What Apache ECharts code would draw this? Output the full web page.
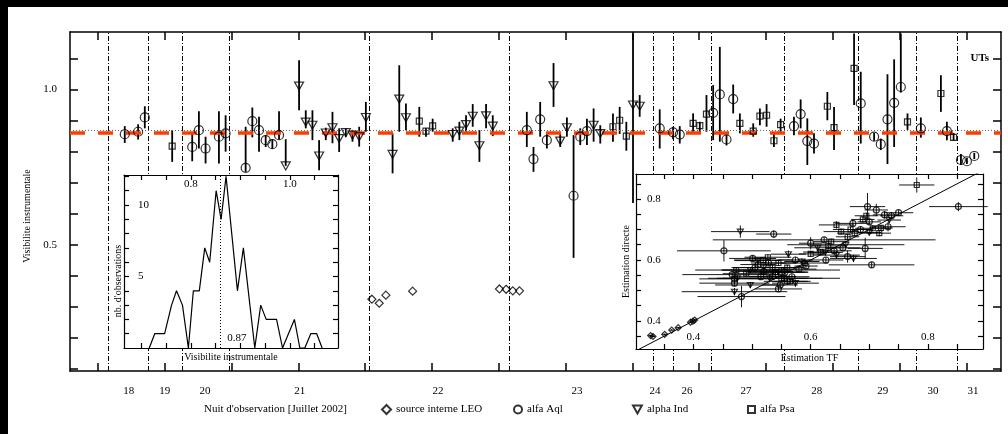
<!DOCTYPE html>
<html>
<head>
<meta charset="utf-8">
<script src="https://cdn.jsdelivr.net/npm/echarts@6.0.0/dist/echarts.min.js"></script>
<style>
html, body { margin: 0; padding: 0; background: #000; }
#chart { position: absolute; left: 8px; top: 7px; width: 1000px; height: 427px; background: #fff; }
</style>
</head>
<body>
<div id="chart"></div>
<script>
// axe des nuits (unite = un intervalle de graduation)
var nightNames = ['18', '19', '20', '21', '22', '23', '24', '26', '27', '28', '29', '30', '31'];
var nightPos = [1.46, 2.00, 2.60, 4.02, 6.09, 8.17, 9.34, 9.82, 10.70, 11.76, 12.75, 13.50, 14.10];
var nightSeparators = [1.15, 1.75, 2.26, 2.96, 5.06, 7.15, 9.31, 9.62, 10.18, 11.28, 12.39, 13.25, 13.86];
var xTicks = [1, 2, 3, 4, 5, 6, 7, 8, 9, 10, 11, 12, 13, 14];
var yTicks = [0.1, 0.2, 0.3, 0.4, 0.5, 0.6, 0.7, 0.8, 0.9, 1.0, 1.1];
var yLabels = [0.5, 1.0];
var redLevel = 0.863;
var dotLevel = 0.869;

// [position, visibilite, bas, haut]
var aqlData = [
	[1.40, 0.856, 0.828, 0.882], [1.60, 0.864, 0.839, 0.888], [1.70, 0.910, 0.875, 0.946],
	[2.41, 0.815, 0.769, 0.859], [2.51, 0.869, 0.810, 0.930], [2.61, 0.810, 0.762, 0.848],
	[2.81, 0.848, 0.762, 0.930], [2.91, 0.859, 0.800, 0.917], [3.21, 0.748, 0.735, 0.880],
	[3.31, 0.898, 0.846, 0.942], [3.41, 0.869, 0.800, 0.912], [3.51, 0.837, 0.815, 0.853],
	[3.61, 0.824, 0.810, 0.840], [3.71, 0.853, 0.840, 0.930], [7.42, 0.869, 0.815, 0.928],
	[7.52, 0.776, 0.735, 0.815], [7.62, 0.904, 0.848, 0.960], [7.72, 0.837, 0.810, 0.860],
	[8.12, 0.658, 0.458, 0.853], [8.22, 0.848, 0.821, 0.875], [8.32, 0.866, 0.821, 0.906],
	[9.41, 0.875, 0.810, 0.936], [9.61, 0.862, 0.840, 0.880], [9.71, 0.855, 0.826, 0.882],
	[10.21, 0.925, 0.837, 1.014], [10.31, 0.984, 0.832, 1.137], [10.41, 0.839, 0.820, 0.855],
	[10.51, 0.969, 0.923, 1.016], [11.42, 0.882, 0.853, 0.912], [11.52, 0.921, 0.875, 0.968],
	[11.62, 0.834, 0.757, 0.907], [11.72, 0.826, 0.794, 0.859], [12.42, 0.955, 0.826, 1.057],
	[12.62, 0.848, 0.835, 0.860], [12.72, 0.824, 0.805, 0.842], [12.82, 0.904, 0.760, 1.049],
	[12.92, 0.957, 0.815, 1.097], [13.02, 1.008, 0.990, 1.180], [13.32, 0.875, 0.845, 0.910],
	[13.71, 0.866, 0.837, 0.896], [13.92, 0.773, 0.757, 0.792], [14.01, 0.769, 0.760, 0.780],
	[14.12, 0.786, 0.776, 0.796]
];
var indData = [
	[3.81, 0.754, 0.754, 0.840], [4.01, 1.011, 0.933, 1.094], [4.11, 0.895, 0.875, 0.933],
	[4.21, 0.885, 0.837, 0.933], [4.31, 0.786, 0.740, 0.837], [4.41, 0.860, 0.837, 0.877],
	[4.51, 0.877, 0.827, 0.928], [4.61, 0.842, 0.799, 0.875], [4.71, 0.861, 0.848, 0.875],
	[4.81, 0.853, 0.832, 0.870], [4.91, 0.848, 0.816, 0.880], [5.01, 0.910, 0.864, 0.960],
	[5.41, 0.791, 0.730, 0.859], [5.51, 0.969, 0.864, 1.078], [5.61, 0.909, 0.869, 0.955],
	[6.31, 0.855, 0.832, 0.875], [6.41, 0.866, 0.837, 0.896], [6.51, 0.887, 0.864, 0.917],
	[6.61, 0.914, 0.880, 0.953], [6.71, 0.819, 0.767, 0.869], [6.81, 0.915, 0.875, 0.953],
	[6.91, 0.882, 0.850, 0.917], [7.82, 1.012, 0.944, 1.085], [7.92, 0.834, 0.815, 0.857],
	[8.02, 0.877, 0.848, 0.910], [8.42, 0.885, 0.832, 0.939], [8.52, 0.858, 0.826, 0.885],
	[9.01, 0.950, 0.635, 1.180], [9.11, 0.946, 0.912, 0.982]
];
var psaData = [
	[2.11, 0.818, 0.767, 0.869], [5.81, 0.898, 0.848, 0.944], [5.91, 0.866, 0.848, 0.875],
	[6.01, 0.883, 0.864, 0.906], [8.71, 0.880, 0.832, 0.923], [8.81, 0.901, 0.857, 0.944],
	[8.91, 0.850, 0.803, 0.896], [9.91, 0.891, 0.864, 0.923], [10.01, 0.884, 0.860, 0.896],
	[10.11, 0.921, 0.864, 0.982], [10.61, 0.891, 0.859, 0.923], [10.81, 0.866, 0.848, 0.891],
	[10.91, 0.914, 0.885, 0.939], [11.01, 0.917, 0.880, 0.953], [11.12, 0.835, 0.815, 0.857],
	[11.22, 0.887, 0.857, 0.906], [11.92, 0.946, 0.901, 0.992], [12.02, 0.877, 0.805, 0.944],
	[12.32, 1.068, 0.950, 1.180], [13.12, 0.896, 0.870, 0.923], [13.62, 0.987, 0.928, 1.046],
	[13.81, 0.846, 0.835, 0.860]
];
var leoData = [
	[5.10, 0.325], [5.21, 0.312], [5.31, 0.338], [5.71, 0.351],
	[7.01, 0.358], [7.11, 0.357], [7.21, 0.352], [7.31, 0.352]
];

// histogramme
var histX = [0.716, 0.727, 0.747, 0.761, 0.771, 0.783, 0.795, 0.805, 0.817, 0.828, 0.838, 0.851, 0.861, 0.871,
	0.894, 0.906, 0.929, 0.941, 0.952, 0.973, 0.985, 1.009, 1.020, 1.030, 1.042, 1.054, 1.065];
var histY = [0, 1, 1, 3, 4, 3, 0, 4, 4, 7, 6, 11, 9, 12, 4, 7, 0, 3, 2, 2, 0, 2, 0, 0, 1, 1, 0];
var histMean = 0.862;
var histMeanText = '0.87';
var histXTicks = [0.70, 0.75, 0.80, 0.85, 0.90, 0.95, 1.00, 1.05];
var histXLabels = [0.8, 1.0];
var histYTicks = [1, 2, 3, 4, 5, 6, 7, 8, 9, 10, 11, 12];
var histYLabels = [5, 10];

// estimation TF / directe : [x, y, erreur x, erreur y]
var tfLeo = [
	[0.327, 0.352, 0.004, 0.003], [0.331, 0.349, 0.004, 0.003], [0.351, 0.356, 0.004, 0.003],
	[0.363, 0.370, 0.004, 0.003], [0.374, 0.378, 0.004, 0.003], [0.395, 0.396, 0.004, 0.003],
	[0.399, 0.399, 0.004, 0.003], [0.402, 0.403, 0.004, 0.003]
];
var tfAql = [
	[0.452, 0.630, 0.080, 0.035], [0.537, 0.685, 0.030, 0.012], [0.482, 0.480, 0.075, 0.035],
	[0.470, 0.538, 0.060, 0.010], [0.466, 0.552, 0.085, 0.012], [0.501, 0.605, 0.040, 0.010],
	[0.520, 0.562, 0.050, 0.010], [0.535, 0.546, 0.040, 0.010], [0.548, 0.518, 0.030, 0.010],
	[0.560, 0.530, 0.040, 0.012], [0.574, 0.600, 0.030, 0.010], [0.592, 0.580, 0.020, 0.010],
	[0.600, 0.655, 0.020, 0.020], [0.623, 0.666, 0.190, 0.010], [0.626, 0.600, 0.030, 0.010],
	[0.663, 0.611, 0.030, 0.020], [0.693, 0.638, 0.030, 0.035], [0.704, 0.584, 0.073, 0.010],
	[0.672, 0.720, 0.030, 0.012], [0.697, 0.775, 0.030, 0.045], [0.712, 0.764, 0.020, 0.020],
	[0.726, 0.748, 0.020, 0.012], [0.732, 0.709, 0.030, 0.015], [0.750, 0.755, 0.025, 0.010],
	[0.852, 0.775, 0.050, 0.015], [0.545, 0.505, 0.040, 0.010], [0.470, 0.524, 0.060, 0.010],
	[0.505, 0.575, 0.040, 0.010], [0.515, 0.545, 0.050, 0.010], [0.528, 0.590, 0.030, 0.010],
	[0.556, 0.560, 0.040, 0.010], [0.568, 0.545, 0.030, 0.010], [0.580, 0.570, 0.030, 0.010],
	[0.640, 0.630, 0.030, 0.010], [0.655, 0.640, 0.030, 0.010], [0.685, 0.700, 0.020, 0.010],
	[0.700, 0.725, 0.020, 0.010], [0.738, 0.745, 0.020, 0.010]
];
var tfInd = [
	[0.480, 0.693, 0.050, 0.020], [0.470, 0.496, 0.090, 0.012], [0.497, 0.567, 0.050, 0.010],
	[0.497, 0.518, 0.060, 0.010], [0.510, 0.598, 0.040, 0.010], [0.530, 0.540, 0.090, 0.010],
	[0.562, 0.619, 0.030, 0.012], [0.574, 0.524, 0.040, 0.012], [0.612, 0.640, 0.040, 0.010],
	[0.644, 0.616, 0.040, 0.012], [0.673, 0.605, 0.040, 0.012], [0.734, 0.731, 0.020, 0.010],
	[0.660, 0.650, 0.100, 0.010], [0.545, 0.560, 0.050, 0.010], [0.520, 0.575, 0.040, 0.010],
	[0.585, 0.595, 0.030, 0.010], [0.625, 0.625, 0.030, 0.010], [0.700, 0.690, 0.020, 0.010],
	[0.475, 0.540, 0.050, 0.010]
];
var tfPsa = [
	[0.473, 0.567, 0.070, 0.010], [0.519, 0.600, 0.050, 0.010], [0.527, 0.609, 0.040, 0.010],
	[0.540, 0.560, 0.050, 0.010], [0.555, 0.540, 0.040, 0.010], [0.565, 0.530, 0.030, 0.010],
	[0.590, 0.590, 0.040, 0.010], [0.617, 0.626, 0.030, 0.010], [0.630, 0.646, 0.030, 0.010],
	[0.644, 0.715, 0.030, 0.012], [0.652, 0.693, 0.030, 0.010], [0.663, 0.676, 0.020, 0.010],
	[0.675, 0.688, 0.030, 0.010], [0.689, 0.733, 0.020, 0.010], [0.706, 0.704, 0.030, 0.010],
	[0.717, 0.688, 0.020, 0.010], [0.781, 0.846, 0.030, 0.025], [0.550, 0.567, 0.100, 0.010],
	[0.550, 0.540, 0.100, 0.010], [0.510, 0.585, 0.030, 0.010], [0.535, 0.575, 0.040, 0.010],
	[0.545, 0.590, 0.030, 0.010], [0.560, 0.575, 0.030, 0.010], [0.600, 0.620, 0.020, 0.010],
	[0.635, 0.660, 0.030, 0.010], [0.668, 0.700, 0.030, 0.010], [0.695, 0.745, 0.020, 0.010],
	[0.720, 0.705, 0.020, 0.010], [0.490, 0.555, 0.040, 0.010]
];
var tfTicks = [0.35, 0.40, 0.45, 0.50, 0.55, 0.60, 0.65, 0.70, 0.75, 0.80, 0.85];
var tfLabels = [0.4, 0.6, 0.8];
var identity = [0.3, 0.9];

var FONT = 'Liberation Serif';
var txt = {color: '#000', fontFamily: FONT, fontSize: 11};
var triDown = 'path://M0,0 L10,0 L5,9 Z';
var hollow = {color: 'rgba(0,0,0,0)', borderColor: '#000', borderWidth: 1.2};

function fmt1(v) { return v.toFixed(1); }

function nightLabel(v) {
	var best = 0;
	for (var i = 0; i < nightPos.length; i++) {
		if (Math.abs(nightPos[i] - v) < Math.abs(nightPos[best] - v)) best = i;
	}
	return nightNames[best];
}

// axe encadrant : ligne noire, graduations vers l'interieur
function frameAxis(grid, pos, min, max, ticks, tickLen, width, z) {
	return {
		type: 'value', gridIndex: grid, position: pos, min: min, max: max, z: z,
		axisLine: {onZero: false, lineStyle: {color: '#000', width: width}},
		axisTick: {inside: true, length: tickLen, customValues: ticks, lineStyle: {color: '#000', width: width}},
		axisLabel: {show: false},
		splitLine: {show: false}
	};
}

function withLabels(axis, labels, extra) {
	axis.axisLabel = Object.assign({show: true, customValues: labels}, txt, extra);
	return axis;
}

function withName(axis, name, gap, pad) {
	axis.name = name;
	axis.nameLocation = 'middle';
	axis.nameGap = gap;
	axis.nameTextStyle = {color: '#000', fontFamily: FONT, fontSize: 10, padding: pad || 0};
	return axis;
}

function vBar(params, api) {
	var a = api.coord([api.value(0), api.value(3)]);
	var b = api.coord([api.value(0), api.value(2)]);
	return {type: 'line', shape: {x1: a[0], y1: a[1], x2: b[0], y2: b[1]}, style: {stroke: '#000', lineWidth: 1.8}};
}

function xyBar(params, api) {
	var x = api.value(0), y = api.value(1), xe = api.value(2), ye = api.value(3);
	var l = api.coord([x - xe, y]), r = api.coord([x + xe, y]);
	var t = api.coord([x, y + ye]), b = api.coord([x, y - ye]);
	return {type: 'group', children: [
		{type: 'line', shape: {x1: l[0], y1: l[1], x2: r[0], y2: r[1]}, style: {stroke: '#000', lineWidth: 0.9}},
		{type: 'line', shape: {x1: t[0], y1: t[1], x2: b[0], y2: b[1]}, style: {stroke: '#000', lineWidth: 0.9}}
	]};
}

function legendAt(name, left, w, h) {
	return {
		data: [name], left: left, top: 397, padding: 0, itemWidth: w, itemHeight: h,
		selectedMode: false, textStyle: {color: '#000', fontFamily: FONT, fontSize: 11}
	};
}

var sepLines = nightSeparators.map(function (v) {
	return {xAxis: v, lineStyle: {type: [5, 2, 1, 2], color: '#000', width: 1}};
});
sepLines.push({yAxis: dotLevel, lineStyle: {type: [1, 2], color: '#666', width: 1}});
sepLines.push({yAxis: redLevel, lineStyle: {type: [15, 13], color: '#ff3c00', width: 3.5}});

var option = {
	animation: false,
	title: {
		text: "Nuit d'observation [Juillet 2002]", left: 196, top: 397, padding: 0,
		textStyle: {color: '#000', fontFamily: FONT, fontSize: 11, fontWeight: 'normal'}
	},
	legend: [
		legendAt('source interne LEO', 373, 9, 9),
		legendAt('alfa Aql', 505, 8, 8),
		legendAt('alpha Ind', 624, 9, 8),
		legendAt('alfa Psa', 739, 7, 7)
	],
	grid: [
		{left: 62, top: 25, right: 7, bottom: 63},
		{left: 116, top: 168, width: 214, height: 173, show: true, backgroundColor: '#fff', borderWidth: 0, z: 10},
		{left: 628, top: 167, width: 347, height: 175, show: true, backgroundColor: '#fff', borderWidth: 0, z: 10}
	],
	xAxis: [
		withLabels(frameAxis(0, 'bottom', 0.58, 14.52, xTicks, 8, 1.5, 0), nightPos, {formatter: nightLabel, margin: 15}),
		frameAxis(0, 'top', 0.58, 14.52, xTicks, 8, 1.5, 0),
		withName(frameAxis(1, 'bottom', 0.665, 1.097, histXTicks, 5, 1.2, 11), 'Visibilite instrumentale', 4),
		withLabels(frameAxis(1, 'top', 0.665, 1.097, histXTicks, 5, 1.2, 11), histXLabels, {inside: true, margin: 4, formatter: fmt1}),
		withName(withLabels(frameAxis(2, 'bottom', 0.302, 0.894, tfTicks, 5, 1.2, 11), tfLabels, {inside: true, margin: 6, formatter: fmt1}), 'Estimation TF', 4),
		frameAxis(2, 'top', 0.302, 0.894, tfTicks, 5, 1.2, 11)
	],
	yAxis: [
		withName(withLabels(frameAxis(0, 'left', 0.094, 1.185, yTicks, 8, 1.5, 0), yLabels, {formatter: fmt1, margin: 13}), 'Visibilite instrumentale', 31, [0, 29, 0, 0]),
		withLabels(frameAxis(0, 'right', 0.094, 1.185, yTicks, 8, 1.5, 0), [1.1], {inside: true, margin: 12, fontWeight: 'bold', formatter: function () { return 'UTs'; }}),
		withName(withLabels(frameAxis(1, 'left', 0, 12.1, histYTicks, 5, 1.2, 11), histYLabels, {inside: true, margin: 14}), "nb. d'observations", 1, [0, 39, 0, 0]),
		frameAxis(1, 'right', 0, 12.1, histYTicks, 5, 1.2, 11),
		withName(withLabels(frameAxis(2, 'left', 0.308, 0.882, tfTicks, 5, 1.2, 11), tfLabels, {inside: true, margin: 11, formatter: fmt1}), 'Estimation directe', 5),
		frameAxis(2, 'right', 0.308, 0.882, tfTicks, 5, 1.2, 11)
	],
	series: [
		{type: 'custom', name: 'barres', renderItem: vBar, data: aqlData.concat(indData, psaData), encode: {x: 0, y: 1}, z: 2, silent: true},
		{
			type: 'scatter', name: 'source interne LEO', data: leoData, symbol: 'diamond', symbolSize: 8,
			itemStyle: hollow, z: 3,
			markLine: {silent: true, symbol: ['none', 'none'], label: {show: false}, z: 3, data: sepLines}
		},
		{type: 'scatter', name: 'alfa Aql', data: aqlData, symbol: 'circle', symbolSize: 9, itemStyle: hollow, z: 3},
		{type: 'scatter', name: 'alpha Ind', data: indData, symbol: triDown, symbolSize: [9, 8], itemStyle: hollow, z: 3},
		{type: 'scatter', name: 'alfa Psa', data: psaData, symbol: 'rect', symbolSize: 6, itemStyle: hollow, z: 3},

		{
			type: 'line', name: 'histogramme', xAxisIndex: 2, yAxisIndex: 2, z: 12,
			data: histX.map(function (x, i) { return [x, histY[i]]; }),
			symbol: 'none', lineStyle: {color: '#000', width: 1.2},
			markLine: {
				silent: true, symbol: ['none', 'none'], label: {show: false}, z: 13,
				data: [{xAxis: histMean, lineStyle: {type: [1, 2], color: '#000', width: 1}}]
			},
			markPoint: {
				z: 13, symbol: 'circle', symbolSize: 1, itemStyle: {color: 'rgba(0,0,0,0)'},
				label: Object.assign({show: true, formatter: histMeanText}, txt),
				data: [{coord: [0.893, 0.7]}]
			}
		},

		{
			type: 'line', name: 'identite', xAxisIndex: 4, yAxisIndex: 4, z: 12,
			data: [[identity[0], identity[0]], [identity[1], identity[1]]],
			symbol: 'none', lineStyle: {color: '#000', width: 1}
		},
		{
			type: 'custom', name: 'barres TF', xAxisIndex: 4, yAxisIndex: 4, z: 12, silent: true,
			renderItem: xyBar, data: tfLeo.concat(tfAql, tfInd, tfPsa), encode: {x: 0, y: 1}
		},
		{type: 'scatter', name: 'TF LEO', xAxisIndex: 4, yAxisIndex: 4, z: 13, data: tfLeo, symbol: 'diamond', symbolSize: 6, itemStyle: hollow},
		{type: 'scatter', name: 'TF Aql', xAxisIndex: 4, yAxisIndex: 4, z: 13, data: tfAql, symbol: 'circle', symbolSize: 6, itemStyle: hollow},
		{type: 'scatter', name: 'TF Ind', xAxisIndex: 4, yAxisIndex: 4, z: 13, data: tfInd, symbol: triDown, symbolSize: [6, 5], itemStyle: hollow},
		{type: 'scatter', name: 'TF Psa', xAxisIndex: 4, yAxisIndex: 4, z: 13, data: tfPsa, symbol: 'rect', symbolSize: 5, itemStyle: hollow}
	]
};

var myChart = echarts.init(document.getElementById('chart'));
myChart.setOption(option);
</script>
</body>
</html>
